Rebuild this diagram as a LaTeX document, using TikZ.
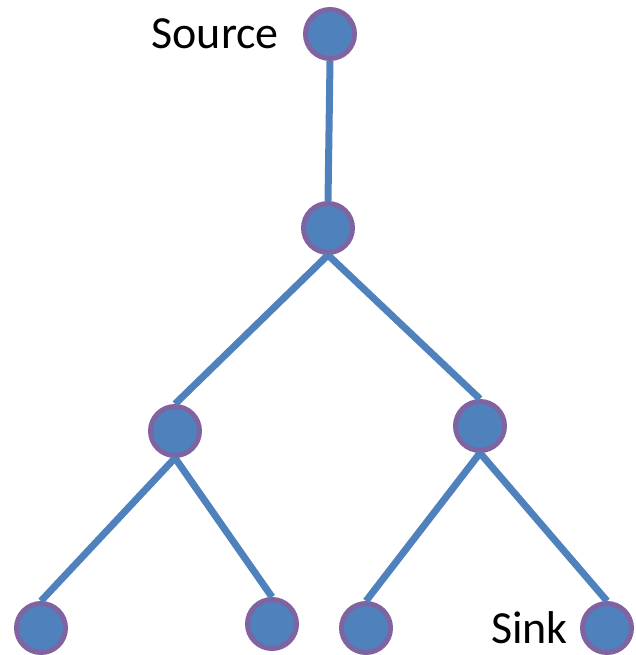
\documentclass[tikz,border=0pt]{standalone}
\usepackage{fontspec}
\setmainfont{Carlito}
\usetikzlibrary{positioning}
\definecolor{nodeblue}{HTML}{4F81BD}
\definecolor{rimpurple}{HTML}{8064A2}
\tikzset{
  vertex/.style = {circle, fill=nodeblue, draw=rimpurple, line width=5pt, minimum size=49pt, inner sep=0pt},
  edge/.style = {draw=nodeblue, line width=7pt},
  tag/.style = {font=\fontsize{46}{50}\selectfont, inner sep=0pt}
}
\begin{document}
\begin{tikzpicture}[x=1pt, y=-1pt]
    \useasboundingbox (0,0) rectangle (636,655);

    % the tree, top down
    \node[vertex] (src) at (330,34) {};
    \node[vertex] (mid) at (328,228) {};
    \node[vertex] (l) at (175,431) {};
    \node[vertex] (r) at (480,426) {};
    \node[vertex] (ll) at (41,628) {};
    \node[vertex] (lr) at (272,624) {};
    \node[vertex] (rl) at (366,628) {};
    \node[vertex] (snk) at (607,628) {};

    % links run from bottom of parent to top of child
    \draw[edge] (src.south) -- (mid.north);
    \draw[edge] (mid.south) -- (l.north);
    \draw[edge] (mid.south) -- (r.north);
    \draw[edge] (l.south) -- (ll.north);
    \draw[edge] (l.south) -- (lr.north);
    \draw[edge] (r.south) -- (rl.north);
    \draw[edge] (r.south) -- (snk.north);

    \node[tag, left=24pt of src] (srclabel) {Source};
    \node[tag, left=12pt of snk] (snklabel) {Sink};
\end{tikzpicture}
\end{document}
